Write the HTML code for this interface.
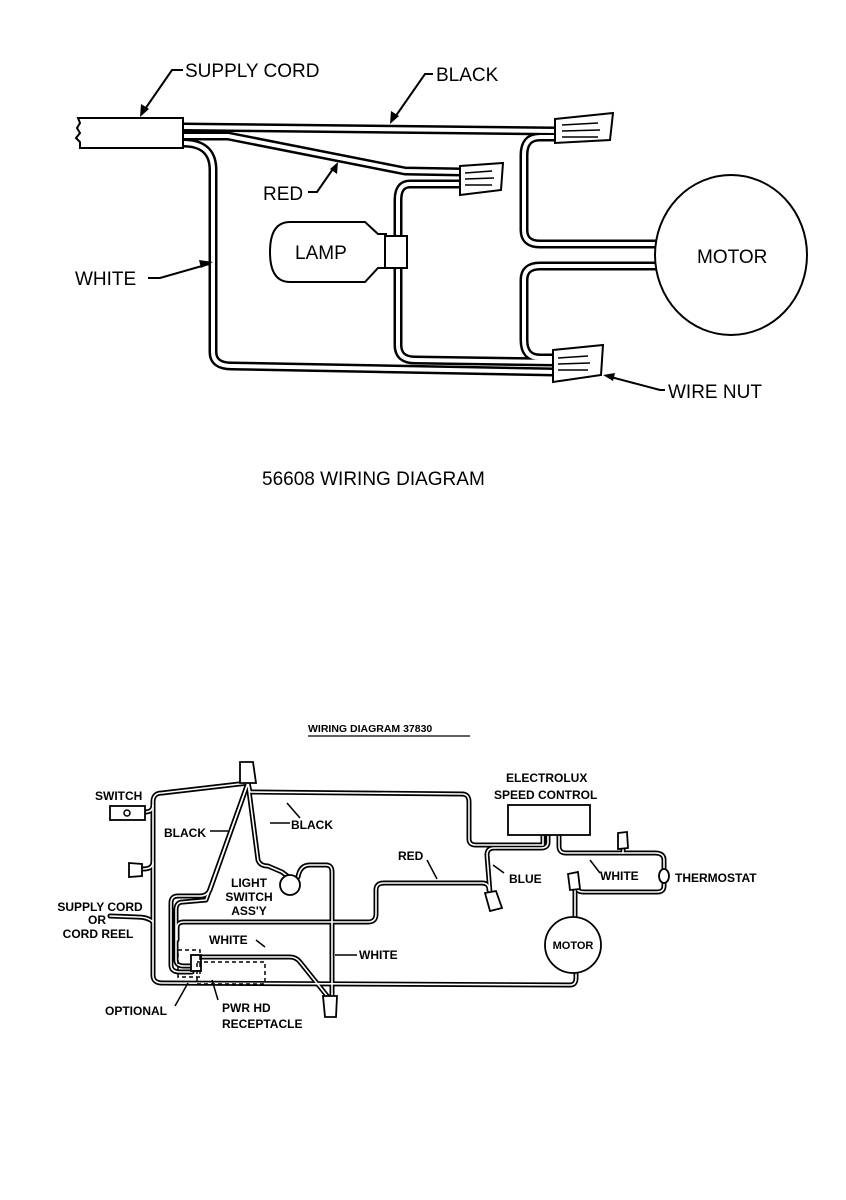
<!DOCTYPE html>
<html><head><style>
html,body{margin:0;padding:0;background:#fff;}
svg{display:block;}
text{font-family:"Liberation Sans",sans-serif;fill:#000;}
.w1{fill:none;stroke:#000;stroke-width:9;stroke-linejoin:round;stroke-linecap:round;}
.w1i{fill:none;stroke:#fff;stroke-width:4;stroke-linejoin:round;stroke-linecap:round;}
.w2{fill:none;stroke:#000;stroke-width:5;stroke-linejoin:round;stroke-linecap:round;}
.w2i{fill:none;stroke:#fff;stroke-width:1.6;stroke-linejoin:round;stroke-linecap:round;}
.t{font-size:19px;}
.s{font-size:12px;font-weight:bold;}
</style></head><body>
<svg width="846" height="1200" viewBox="0 0 846 1200" xmlns="http://www.w3.org/2000/svg">
<defs>
<path id="p1" d="M183 127 L555 131"/>
<path id="p2" d="M183 136 L228 136 L405 171 L462 172"/>
<path id="p3" d="M183 143 Q213 143 213 170 L213 352 Q213 366 232 366 L555 372"/>
<path id="p4" d="M462 184 L410 184 Q398 184 398 200 L398 345 Q398 360 415 360 L555 362"/>
<path id="p5" d="M555 137 L540 137 Q524 137 524 155 L524 230 Q524 244 540 244 L660 244"/>
<path id="p6" d="M555 358 L540 358 Q524 358 524 340 L524 280 Q524 266 540 266 L660 266"/>
<path id="b1" d="M248 783 L250 792 L462 794 Q469 794 469 802 L469 839 Q469 845 476 845 L543 845 L543 835"/>
<path id="b2" d="M248 783 L162 793 Q153 793 153 802 L153 862 Q153 870 153 880 L153 975 Q153 983 162 983 L570 985 Q576 985 576 978 L576 973"/>
<path id="b3" d="M248 783 L210 890 Q207 896 200 896 L178 896 Q171 896 171 903 L171 965 Q171 972 180 972 L192 972"/>
<path id="b3b" d="M248 783 L206 900 L183 902 Q176 902 176 910 L176 960 Q176 966 184 966 L194 966"/>
<path id="b4" d="M248 783 L258 860 Q260 866 268 866 L282 872 L290 878"/>
<path id="b5" d="M298 877 Q300 865 310 865 L326 865 Q332 865 332 872 L332 997"/>
<path id="b6" d="M177 940 L177 928 Q177 922 184 922 L368 922 Q376 922 376 914 L376 890 Q376 883 384 883 L482 883 Q489 883 489 890 L492 895"/>
<path id="b7" d="M548 835 L548 842 Q548 848 541 848 L494 848 Q487 848 487 855 L490 893"/>
<path id="b8" d="M559 835 L559 846 Q559 853 566 853 L655 853 Q664 853 664 860 L664 870"/>
<path id="b9" d="M664 882 L664 886 Q664 892 657 892 L584 892 Q576 892 576 886 L575 890"/>
<path id="b10" d="M575 890 L575 917"/>
<path id="b11" d="M193 957 L290 957 Q296 957 300 962 L328 997"/>
<path id="b12" d="M623 853 L623 846"/>
<path id="b13" d="M110 916 L137 917 Q148 917 153 922"/>
<path id="b14" d="M145 812 Q153 812 153 805"/>
<path id="b15" d="M143 869 Q153 869 153 862"/>
</defs>
<!-- ===== TOP DIAGRAM ===== -->
<g class="w1"><use href="#p1"/><use href="#p2"/><use href="#p3"/><use href="#p4"/><use href="#p5"/><use href="#p6"/></g>
<g class="w1i"><use href="#p1"/><use href="#p2"/><use href="#p3"/><use href="#p4"/><use href="#p5"/><use href="#p6"/></g>
<path d="M78 118 L183 118 L183 148 L80 148 L80 142 L76 138 L80 133 L77 128 L80 123 Z" fill="#fff" stroke="#000" stroke-width="2"/>
<g fill="#fff" stroke="#000" stroke-width="2">
<path d="M555 119 L613 113 L610 140 L555 143 Z"/>
<path d="M460 166 L503 163 L501 190 L460 195 Z"/>
<path d="M553 350 L603 345 L601 375 L553 382 Z"/>
</g>
<g stroke="#000" stroke-width="1.5">
<line x1="562" y1="125" x2="598" y2="123"/><line x1="562" y1="131" x2="600" y2="130"/><line x1="562" y1="137" x2="598" y2="137"/>
<line x1="465" y1="173" x2="492" y2="171"/><line x1="465" y1="179" x2="494" y2="178"/><line x1="465" y1="185" x2="492" y2="185"/>
<line x1="558" y1="358" x2="588" y2="356"/><line x1="558" y1="364" x2="590" y2="363"/><line x1="558" y1="370" x2="588" y2="370"/>
</g>
<path d="M290 222 L365 222 L378 234 L386 234 L386 268 L378 268 L365 282 L290 282 Q270 282 270 252 Q270 222 290 222 Z" fill="#fff" stroke="#000" stroke-width="2"/>
<rect x="385" y="236" width="22" height="32" fill="#fff" stroke="#000" stroke-width="2"/>
<ellipse cx="731" cy="255" rx="76" ry="80" fill="#fff" stroke="#000" stroke-width="2"/>
<g fill="none" stroke="#000" stroke-width="2">
<path d="M183 70 L172 70 L143 112"/><path d="M433 74 L425 74 L393 120"/>
<path d="M308 192 L317 192 L335 166"/><path d="M148 278 L160 278 L209 264"/>
<path d="M665 390 L660 390 L607 376"/>
</g>
<g fill="#000">
<path d="M140 117 L141 104 L149 109 Z"/><path d="M390 124 L391 111 L399 116 Z"/>
<path d="M338 162 L337 174 L330 169 Z"/><path d="M213 262 L201 268 L199 260 Z"/>
<path d="M603 375 L615 373 L613 381 Z"/>
</g>
<text x="185" y="77" class="t">SUPPLY CORD</text>
<text x="436" y="81" class="t">BLACK</text>
<text x="263" y="200" class="t">RED</text>
<text x="75" y="285" class="t">WHITE</text>
<text x="295" y="259" class="t">LAMP</text>
<text x="697" y="263" class="t">MOTOR</text>
<text x="668" y="398" class="t">WIRE NUT</text>
<text x="262" y="485" class="t">56608 WIRING DIAGRAM</text>

<!-- ===== BOTTOM DIAGRAM ===== -->
<text x="308" y="732" font-size="10.5" font-weight="bold">WIRING DIAGRAM 37830</text>
<line x1="308" y1="736" x2="470" y2="736" stroke="#000" stroke-width="1.2"/>
<g class="w2"><use href="#b1"/><use href="#b2"/><use href="#b3"/><use href="#b3b"/><use href="#b4"/><use href="#b5"/><use href="#b6"/><use href="#b7"/><use href="#b8"/><use href="#b9"/><use href="#b10"/><use href="#b11"/><use href="#b12"/><use href="#b13"/><use href="#b14"/><use href="#b15"/></g>
<g class="w2i"><use href="#b1"/><use href="#b2"/><use href="#b3"/><use href="#b3b"/><use href="#b4"/><use href="#b5"/><use href="#b6"/><use href="#b7"/><use href="#b8"/><use href="#b9"/><use href="#b10"/><use href="#b11"/><use href="#b12"/><use href="#b13"/><use href="#b14"/><use href="#b15"/></g>
<g fill="#fff" stroke="#000" stroke-width="1.8">
<path d="M240 762 L253 762 L256 783 L240 783 Z"/>
<rect x="110" y="806" width="35" height="14"/>
<path d="M129 863 L142 864 L142 876 L129 877 Z"/>
<path d="M323 996 L337 996 L336 1017 L325 1017 Z"/>
<path d="M485 893 L496 891 L502 908 L490 911 Z"/>
<path d="M568 874 L578 872 L580 889 L570 890 Z"/>
<path d="M618 833 L627 832 L628 848 L618 849 Z"/>
<rect x="508" y="805" width="82" height="30"/>
<circle cx="290" cy="885" r="10"/>
<ellipse cx="664" cy="876" rx="5" ry="7"/>
<circle cx="573" cy="945" r="28"/>
<rect x="191" y="955" width="10" height="16"/>
</g>
<circle cx="127" cy="813" r="3" fill="none" stroke="#000" stroke-width="1.5"/>
<g fill="none" stroke="#000" stroke-width="1.5" stroke-dasharray="4,3">
<rect x="197" y="962" width="68" height="22"/>
<rect x="178" y="950" width="22" height="27"/>
</g>
<g fill="none" stroke="#000" stroke-width="1.5">
<line x1="210" y1="831" x2="228" y2="831"/><line x1="270" y1="823" x2="290" y2="823"/>
<line x1="287" y1="803" x2="300" y2="818"/><line x1="427" y1="860" x2="437" y2="879"/>
<line x1="493" y1="865" x2="504" y2="873"/><line x1="590" y1="860" x2="600" y2="873"/>
<line x1="335" y1="955" x2="357" y2="955"/><line x1="256" y1="940" x2="265" y2="947"/>
<line x1="175" y1="1006" x2="188" y2="983"/><line x1="218" y1="1000" x2="212" y2="980"/>
</g>
<g class="s">
<text x="95" y="800">SWITCH</text>
<text x="164" y="837">BLACK</text>
<text x="291" y="829">BLACK</text>
<text x="398" y="860">RED</text>
<text x="509" y="883">BLUE</text>
<text x="600" y="880">WHITE</text>
<text x="675" y="882">THERMOSTAT</text>
<text x="506" y="782">ELECTROLUX</text>
<text x="494" y="799">SPEED CONTROL</text>
<text x="249" y="887" text-anchor="middle">LIGHT</text>
<text x="249" y="901" text-anchor="middle">SWITCH</text>
<text x="249" y="915" text-anchor="middle">ASS'Y</text>
<text x="100" y="911" text-anchor="middle">SUPPLY CORD</text>
<text x="97" y="924" text-anchor="middle">OR</text>
<text x="98" y="938" text-anchor="middle">CORD REEL</text>
<text x="209" y="944">WHITE</text>
<text x="359" y="959">WHITE</text>
<text x="105" y="1015">OPTIONAL</text>
<text x="222" y="1012">PWR HD</text>
<text x="222" y="1028">RECEPTACLE</text>
<text x="573" y="949" text-anchor="middle" font-size="11">MOTOR</text>
</g>
</svg>
</body></html>
